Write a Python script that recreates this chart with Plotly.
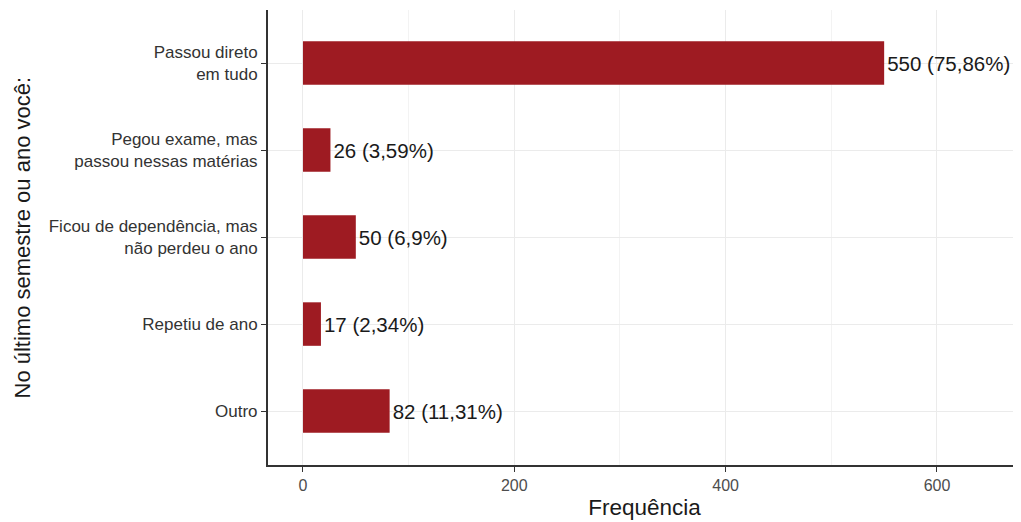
import plotly.graph_objects as go

categories = ["Passou direto<br>em tudo", "Pegou exame, mas<br>passou nessas matérias",
              "Ficou de dependência, mas<br>não perdeu o ano", "Repetiu de ano", "Outro"]
values = [550, 26, 50, 17, 82]
labels = ["550 (75,86%)", "26 (3,59%)", "50 (6,9%)", "17 (2,34%)", "82 (11,31%)"]

FONT = "Liberation Sans, Arial, sans-serif"

fig = go.Figure(go.Bar(
    x=values, y=categories, orientation="h",
    marker=dict(color="#9e1b22", line=dict(width=0)),
    width=0.5,
    text=labels, textposition="outside", cliponaxis=False,
    textfont=dict(size=20.5, color="#1a1a1a", family=FONT),
))

fig.update_layout(
    width=1013, height=514,
    margin=dict(l=260, r=0, t=2, b=57),
    plot_bgcolor="white", paper_bgcolor="white",
    font=dict(family=FONT, color="#333333"),
    showlegend=False,
    annotations=[dict(
        text="No último semestre ou ano você:", textangle=-90,
        xref="paper", yref="paper", x=0, y=0.5, xshift=-246,
        xanchor="center", yanchor="middle", showarrow=False,
        font=dict(size=22, color="#1a1a1a", family=FONT),
    )],
)
fig.update_xaxes(
    range=[-33.1, 679.5], tickvals=[0, 200, 400, 600],
    showgrid=True, gridcolor="#ebebeb", gridwidth=1,
    minor=dict(tickvals=[100, 300, 500], showgrid=True, gridcolor="#f3f3f3", gridwidth=1),
    showline=True, linecolor="#333333", linewidth=2,
    ticks="outside", ticklen=5, tickcolor="#333333",
    tickfont=dict(size=16, color="#4d4d4d"),
    title=dict(text="Frequência", font=dict(size=22.5, color="#1a1a1a"), standoff=6),
    zeroline=False,
)
fig.update_yaxes(
    autorange=False, range=[4.62, -0.61],
    categoryorder="array", categoryarray=categories,
    showgrid=True, gridcolor="#ebebeb", gridwidth=1,
    showline=True, linecolor="#333333", linewidth=2,
    ticks="outside", ticklen=5, tickcolor="#333333",
    tickfont=dict(size=17, color="#333333"),
)

fig.write_html("out.html")
